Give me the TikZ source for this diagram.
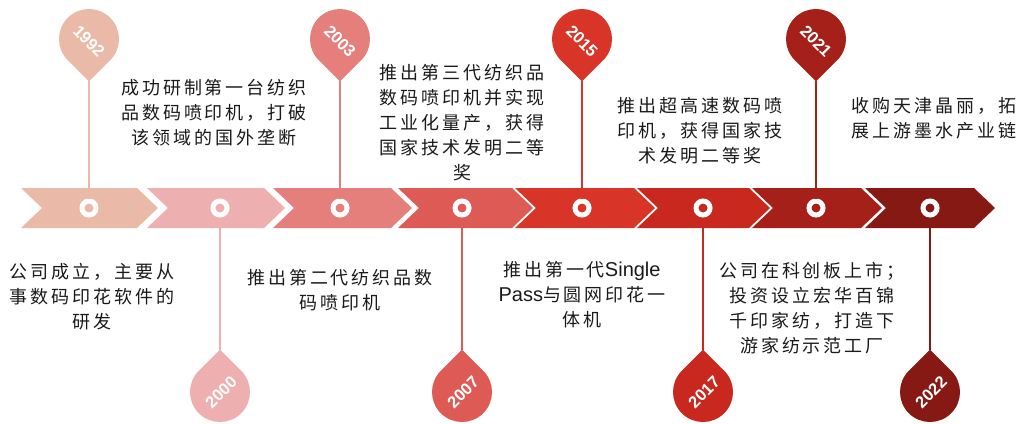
\documentclass[tikz,border=0pt]{standalone}
\usepackage{fontspec}
\setmainfont{Liberation Sans}
\newfontfamily\cjk[LetterSpace=16]{Noto Sans CJK SC}
\newfontfamily\lat{Liberation Sans}
\usetikzlibrary{calc}
\definecolor{c1}{HTML}{EBB9A8}
\definecolor{c2}{HTML}{EDAFAF}
\definecolor{c3}{HTML}{E57F7C}
\definecolor{c4}{HTML}{DD5A55}
\definecolor{c5}{HTML}{D83428}
\definecolor{c6}{HTML}{C8281E}
\definecolor{c7}{HTML}{A42018}
\definecolor{c8}{HTML}{861913}
\definecolor{txt}{HTML}{1A1A1A}
\begin{document}
\begin{tikzpicture}[x=1pt,y=1pt]
\useasboundingbox (0,0) rectangle (1019,-423);
\tikzset{
  ring/.style={circle, draw=white, line width=5pt, minimum size=14pt, inner sep=0pt, fill=#1},
  stem/.style={draw=#1, line width=1.2pt},
  year/.style={text=white, font=\lat\bfseries\fontsize{16.5}{16.5}\selectfont, inner sep=0pt},
  desc/.style={align=center, font=\cjk\fontsize{18}{25}\selectfont, inner sep=0pt, text=txt},
}
% chevrons
\foreach \i/\L/\T in {1/21/158, 2/147/285, 3/273/412, 4/398/533, 5/515/655, 6/637/770, 7/752/882, 8/865/995}{
  \fill[c\i] (\L,-188) -- (\T-21,-188) -- (\T,-208) -- (\T-21,-228) -- (\L,-228) -- (\L+21,-208) -- cycle;
}
% rings
\foreach \i/\X in {1/89, 2/220, 3/340, 4/462, 5/582, 6/703, 7/816, 8/930}{
  \node[ring=c\i] (r\i) at (\X,-208) {};
}
% pins above
\foreach \i/\X/\Y in {1/89/1992, 3/340/2003, 5/582/2015, 7/816/2021}{
  \coordinate (p\i) at (\X,-39);
  \coordinate (t\i) at (\X,-81.4);
  \fill[c\i] (t\i) -- ($(p\i)+(-45:30)$) arc[start angle=-45, end angle=225, radius=30] -- cycle;
  \draw[stem=c\i] (t\i) -- (r\i);
  \node[year, rotate=-45] (y\i) at ($(p\i)+(0,-2)$) {\Y};
}
% pins below
\foreach \i/\X/\Y in {2/220/2000, 4/462/2007, 6/703/2017, 8/930/2022}{
  \coordinate (p\i) at (\X,-392);
  \coordinate (t\i) at (\X,-349.6);
  \fill[c\i] (t\i) -- ($(p\i)+(135:30)$) arc[start angle=135, end angle=405, radius=30] -- cycle;
  \draw[stem=c\i] (r\i) -- (t\i);
  \node[year, rotate=45] (y\i) at ($(p\i)+(1,0)$) {\Y};
}
% descriptions
\node[desc] (d1) at (214,-113) {成功研制第一台纺织\\品数码喷印机，打破\\该领域的国外垄断};
\node[desc] (d2) at (92,-297) {公司成立，主要从\\事数码印花软件的\\研发};
\node[desc] (d3) at (340,-290) {推出第二代纺织品数\\码喷印机};
\node[desc] (d4) at (462,-123) {推出第三代纺织品\\数码喷印机并实现\\工业化量产，获得\\国家技术发明二等\\奖};
\node[desc] (d5) at (582,-295) {推出第一代{\lat\fontsize{20}{25}\selectfont Single}\\{\lat\fontsize{20}{25}\selectfont Pass}与圆网印花一\\体机};
\node[desc] (d6) at (700,-131) {推出超高速数码喷\\印机，获得国家技\\术发明二等奖};
\node[desc] (d7) at (812,-308) {公司在科创板上市；\\投资设立宏华百锦\\千印家纺，打造下\\游家纺示范工厂};
\node[desc] (d8) at (934,-118) {收购天津晶丽，拓\\展上游墨水产业链};
\end{tikzpicture}
\end{document}
